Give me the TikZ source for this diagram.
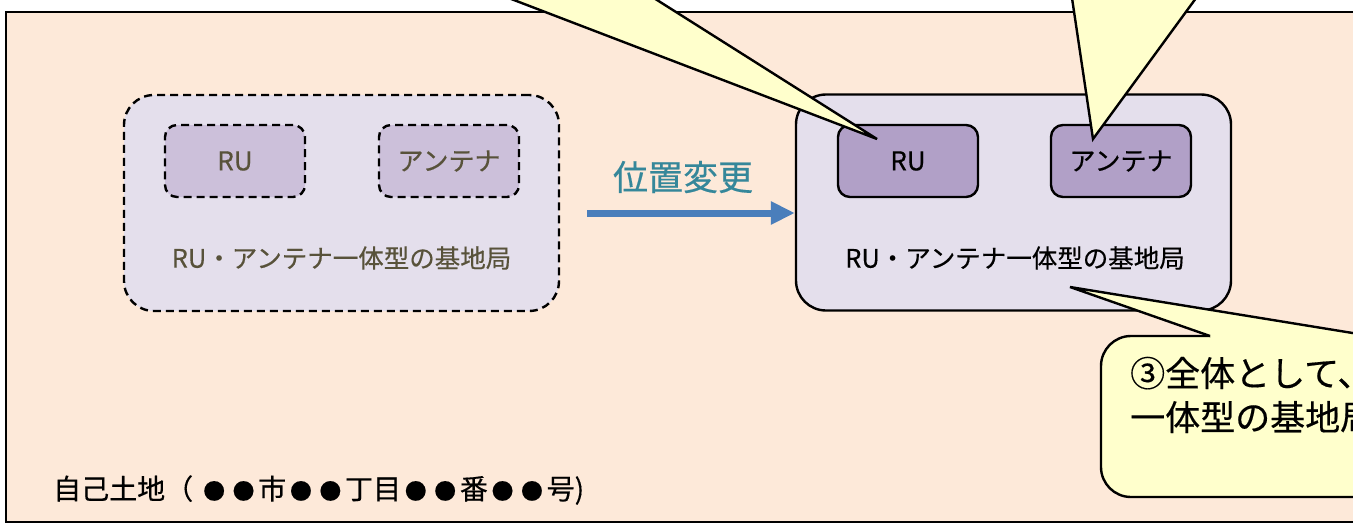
\documentclass[tikz,border=0pt]{standalone}
\usepackage{fontspec}
\setmainfont{Noto Sans CJK JP}[FakeBold=0.4]
\usetikzlibrary{arrows.meta}
\definecolor{land}{HTML}{FDE9D9}
\definecolor{grpfill}{HTML}{E4DFEC}
\definecolor{unitfill}{HTML}{B1A0C7}
\definecolor{unitfade}{HTML}{CCC0DA}
\definecolor{fadetext}{HTML}{58523A}
\definecolor{callfill}{HTML}{FFFFCC}
\definecolor{arrowblue}{HTML}{4A7EBB}
\definecolor{tealtext}{HTML}{35879A}
\newcommand\blt{\makebox[1.05em]{\scalebox{0.78}{●}}}
\tikzset{
  landbox/.style={draw=black, fill=land, line width=2.4pt},
  grpsolid/.style={draw=black, fill=grpfill, line width=2.4pt, rounded corners=30pt,
    minimum width=435pt, minimum height=216pt, inner sep=0pt},
  grpdash/.style={grpsolid, dash pattern=on 8pt off 5pt, line width=2.4pt},
  unitsolid/.style={draw=black, fill=unitfill, line width=2.4pt, rounded corners=12pt,
    minimum width=140pt, minimum height=72pt, inner sep=0pt,
    font=\fontsize{26}{30}\selectfont},
  unitdash/.style={unitsolid, fill=unitfade, text=fadetext, dash pattern=on 8pt off 5pt, line width=2.4pt},
  lbl/.style={inner sep=0pt, font=\fontsize{25.5}{30}\selectfont},
  callout/.style={fill=callfill, draw=black, line width=2.4pt, line join=miter},
  moveline/.style={draw=arrowblue, line width=7pt, -{Triangle[length=24pt,width=22pt]}},
}
\begin{document}
\begin{tikzpicture}[x=1pt,y=-1pt]
\useasboundingbox (0,0) rectangle (1353,528);
\clip (0,0) rectangle (1353,528);
\fill[white] (0,0) rectangle (1353,528);
% land
\draw[landbox] (6,12) rectangle (1400,522);
\node[anchor=west, inner sep=0pt, font=\fontsize{28}{30}\selectfont] (land) at (53,490) {自己土地（ \blt\blt 市\blt\blt 丁目\blt\blt 番\blt\blt 号)};
% left (old) group
\node[grpdash] (lgrp) at (341.5,203) {};
\node[unitdash] (lru) at (235,161) {RU};
\node[unitdash] (lant) at (449,161) {アンテナ};
\node[lbl, text=fadetext] (llbl) at (341.5,258) {RU・アンテナ一体型の基地局};
% right (new) group
\node[grpsolid] (rgrp) at (1013.5,202.5) {};
\node[unitsolid] (rru) at (908,161) {RU};
\node[unitsolid] (rant) at (1121,161) {アンテナ};
\node[lbl] (rlbl) at (1015,258) {RU・アンテナ一体型の基地局};
% move arrow
\coordinate (mstart) at (587,213);
\draw[moveline] (mstart) -- (mstart -| rgrp.west);
\node[inner sep=0pt, text=tealtext, font=\fontsize{35}{40}\selectfont] (mlbl) at (683,177) {位置変更};
% callout 1 (pointer to RU)
\coordinate (c1tip) at (877,139);
\fill[callfill] (482.5,-12) -- (c1tip) -- (638,-12) -- cycle;
\draw[line width=2.4pt, line join=miter] (482.5,-12) -- (c1tip) -- (638,-12);
% callout 2 (pointer to antenna)
\coordinate (c2tip) at (1093,139);
\fill[callfill] (1070.5,-12) -- (c2tip) -- (1203.4,-12) -- cycle;
\draw[line width=2.4pt, line join=miter] (1070.5,-12) -- (c2tip) -- (1203.4,-12);
% callout 3
\draw[callout, rounded corners=30pt] (1450,336) rectangle (1101,497);
\coordinate (c3tip) at (1070,287);
\fill[callfill] (c3tip) -- (1210,336) -- (1212,339.5) -- (1373,339.5) -- (1371,336) -- cycle;
\draw[line width=2.4pt, line join=miter] (1210,336) -- (c3tip) -- (1371,336);
\node[anchor=west, align=left, inner sep=0pt, font=\fontsize{35}{44}\selectfont] (c3txt) at (1130,395) {③全体として、今\\一体型の基地局};
\end{tikzpicture}
\end{document}
